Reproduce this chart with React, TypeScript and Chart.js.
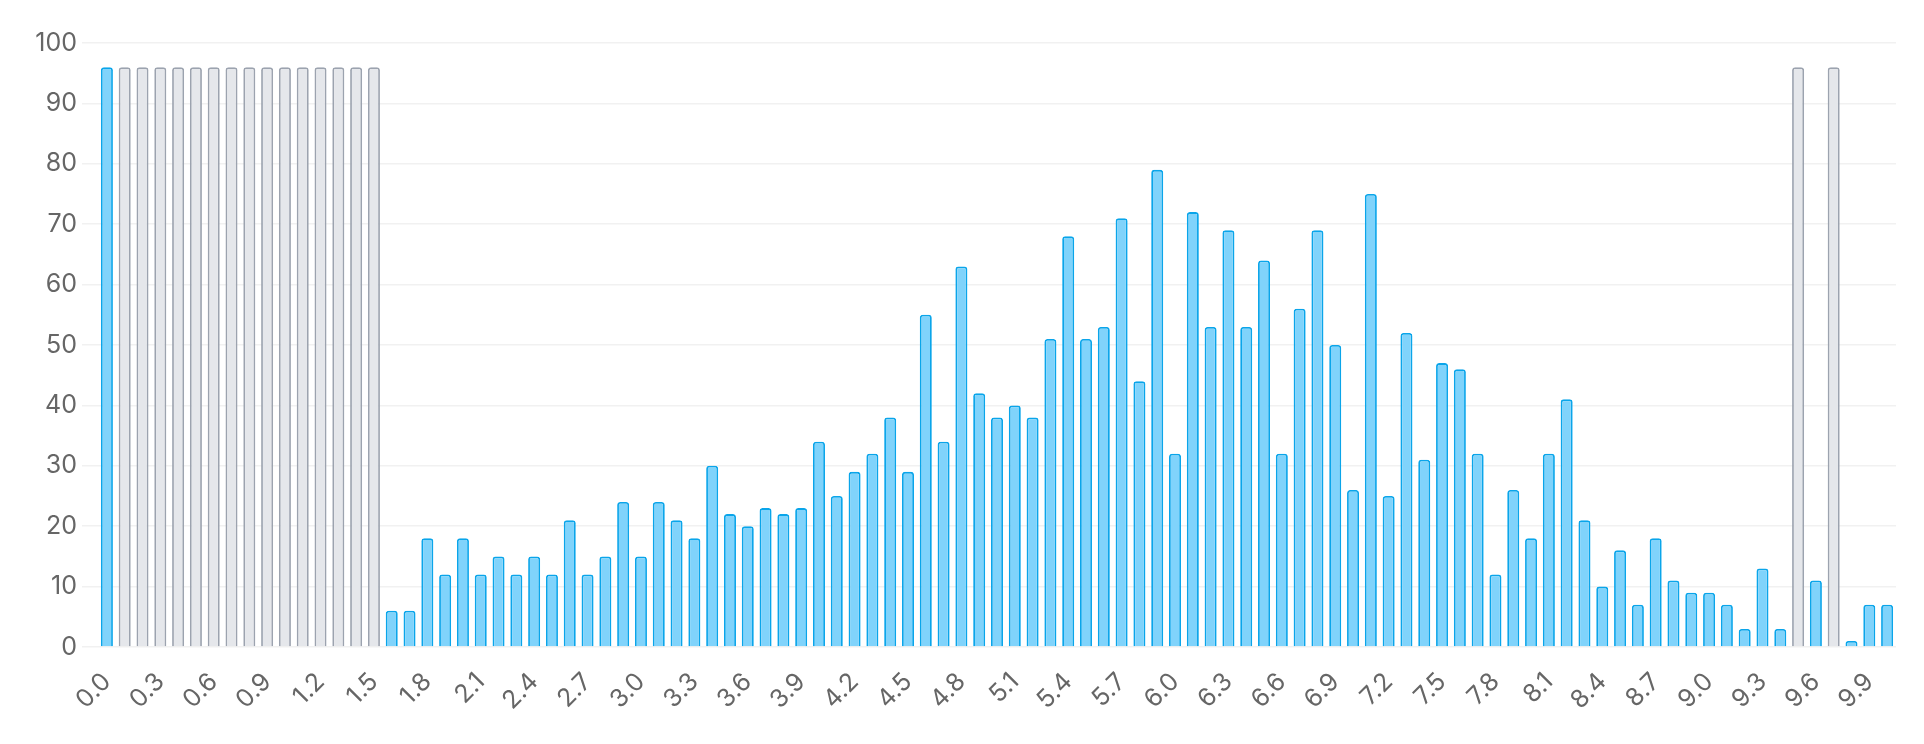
import React, { useEffect, useRef } from "react";
import { Chart, registerables } from "chart.js";

Chart.register(...registerables);

// categories 0.0 .. 10.0
const labels: string[] = [
  "0.0", "0.1", "0.2", "0.3", "0.4", "0.5", "0.6", "0.7", "0.8", "0.9",
  "1.0", "1.1", "1.2", "1.3", "1.4", "1.5", "1.6", "1.7", "1.8", "1.9",
  "2.0", "2.1", "2.2", "2.3", "2.4", "2.5", "2.6", "2.7", "2.8", "2.9",
  "3.0", "3.1", "3.2", "3.3", "3.4", "3.5", "3.6", "3.7", "3.8", "3.9",
  "4.0", "4.1", "4.2", "4.3", "4.4", "4.5", "4.6", "4.7", "4.8", "4.9",
  "5.0", "5.1", "5.2", "5.3", "5.4", "5.5", "5.6", "5.7", "5.8", "5.9",
  "6.0", "6.1", "6.2", "6.3", "6.4", "6.5", "6.6", "6.7", "6.8", "6.9",
  "7.0", "7.1", "7.2", "7.3", "7.4", "7.5", "7.6", "7.7", "7.8", "7.9",
  "8.0", "8.1", "8.2", "8.3", "8.4", "8.5", "8.6", "8.7", "8.8", "8.9",
  "9.0", "9.1", "9.2", "9.3", "9.4", "9.5", "9.6", "9.7", "9.8", "9.9",
  "10.0",
];

const values: number[] = [
  96, 96, 96, 96, 96, 96, 96, 96, 96, 96,
  96, 96, 96, 96, 96, 96, 6, 6, 18, 12,
  18, 12, 15, 12, 15, 12, 21, 12, 15, 24,
  15, 24, 21, 18, 30, 22, 20, 23, 22, 23,
  34, 25, 29, 32, 38, 29, 55, 34, 63, 42,
  38, 40, 38, 51, 68, 51, 53, 71, 44, 79,
  32, 72, 53, 69, 53, 64, 32, 56, 69, 50,
  26, 75, 25, 52, 31, 47, 46, 32, 12, 26,
  18, 32, 41, 21, 10, 16, 7, 18, 11, 9,
  9, 7, 3, 13, 3, 96, 11, 96, 1, 7,
  7,
];

// bars drawn as placeholders (grey)
const placeholderIndexes: number[] = [
  1, 2, 3, 4, 5, 6, 7, 8, 9, 10, 11, 12, 13, 14, 15, 95, 97,
];

const yTicks: number[] = [0, 10, 20, 30, 40, 50, 60, 70, 80, 90, 100];

const blueFill = "#80d3fb";
const blueBorder = "#0aa5ea";
const greyFill = "#e5e7eb";
const greyBorder = "#9ca3af";
const tickColor = "#666666";

export default function App(): React.JSX.Element {
  const chartRef = useRef<HTMLCanvasElement | null>(null);
  const chartInstanceRef = useRef<Chart | null>(null);

  useEffect(() => {
    document.body.style.margin = "0";
    if (!chartRef.current) return;

    const isGrey = (i: number) => placeholderIndexes.includes(i);

    chartInstanceRef.current = new Chart(chartRef.current, {
      type: "bar",
      data: {
        labels: labels,
        datasets: [
          {
            data: values,
            backgroundColor: values.map((_, i) => (isGrey(i) ? greyFill : blueFill)),
            borderColor: values.map((_, i) => (isGrey(i) ? greyBorder : blueBorder)),
            borderWidth: 1.8,
            borderRadius: 3,
            barPercentage: 0.75,
            categoryPercentage: 0.9,
          },
        ],
      },
      options: {
        animation: false,
        responsive: true,
        maintainAspectRatio: false,
        layout: { padding: { top: 43, right: 28, bottom: 0, left: 0 } },
        plugins: {
          legend: { display: false },
          tooltip: { enabled: false },
        },
        scales: {
          x: {
            grid: { display: false, drawTicks: false },
            border: { display: false },
            ticks: {
              autoSkip: false,
              minRotation: 45,
              maxRotation: 45,
              padding: 20,
              color: tickColor,
              font: { family: "Inter", size: 25 },
              callback: (_v, i) => (i % 3 === 0 ? labels[i] : ""),
            },
            afterFit: (scale) => {
              scale.height = 97;
              scale.paddingLeft = 0;
              scale.paddingRight = 0;
            },
          },
          y: {
            min: yTicks[0],
            max: yTicks[yTicks.length - 1],
            grid: { color: "#f1f1f1", lineWidth: 1.5, tickLength: 16 },
            border: { display: false },
            afterBuildTicks: (scale) => {
              scale.ticks = yTicks.map((v) => ({ value: v }));
            },
            ticks: {
              padding: 5,
              color: tickColor,
              font: { family: "Inter", size: 25 },
            },
            afterFit: (scale) => {
              scale.width = 98;
            },
          },
        },
      },
    });

    return () => {
      chartInstanceRef.current?.destroy();
    };
  }, []);

  return (
    <div style={{ position: "relative", width: "100%", height: "744px" }}>
      <canvas ref={chartRef} />
    </div>
  );
}
